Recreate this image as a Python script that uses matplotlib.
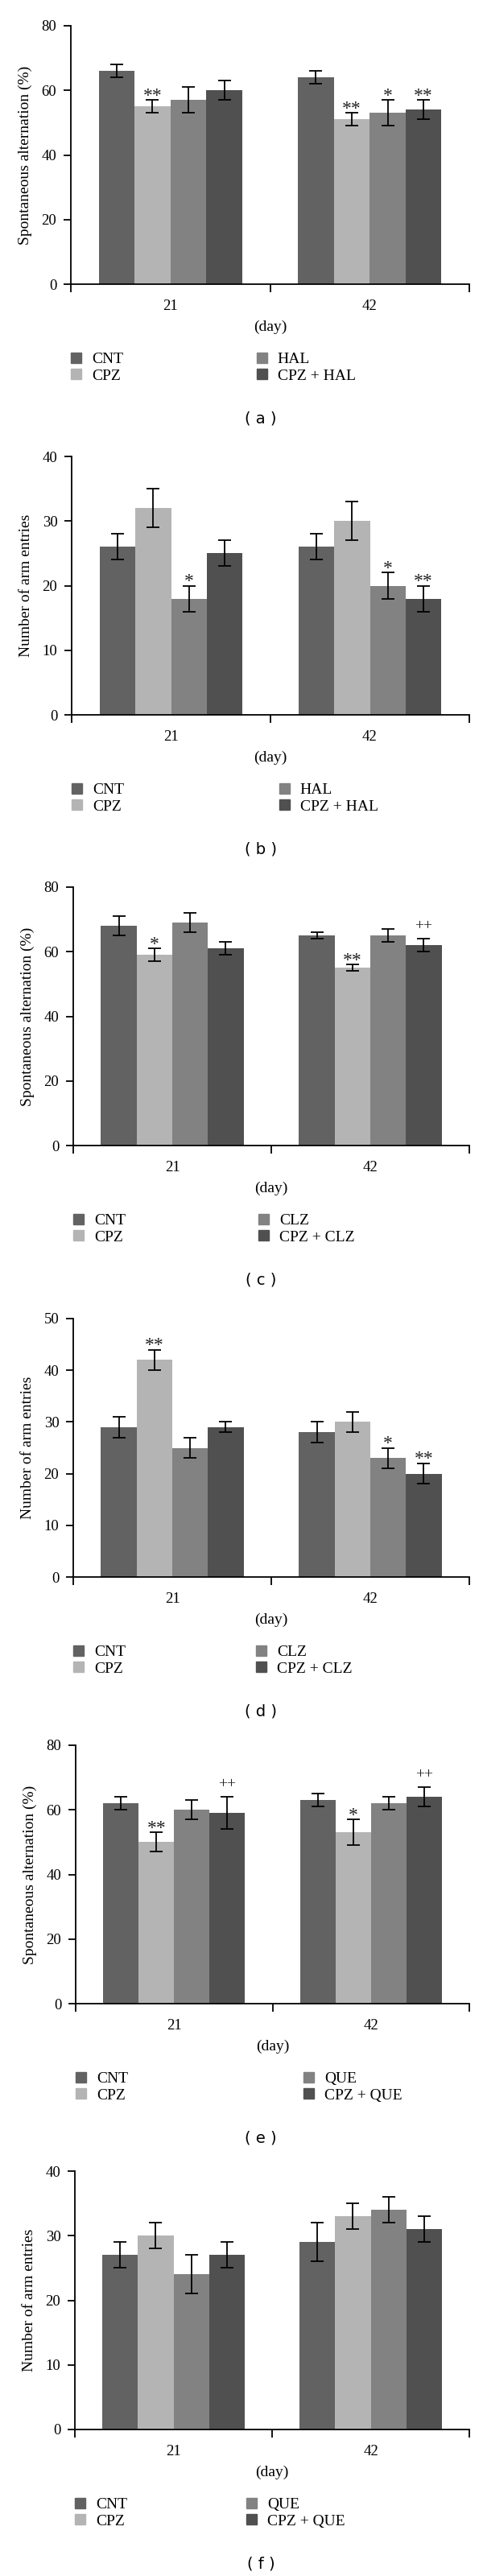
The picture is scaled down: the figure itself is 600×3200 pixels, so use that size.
import matplotlib
matplotlib.use('Agg')
import matplotlib.pyplot as plt
from matplotlib.patches import Patch

plt.rcParams['font.family'] = ['Liberation Serif', 'DejaVu Serif']

days = ['21', '42']
colors = ['#626262', '#b4b4b4', '#828282', '#505050']

# (a) alternation, haloperidol
a_labels = ['CNT', 'CPZ', 'HAL', 'CPZ + HAL']
a_mean = [[66, 55, 57, 60], [64, 51, 53, 54]]
a_err = [[2, 2, 4, 3], [2, 2, 4, 3]]
a_sig = [['', '**', '', ''], ['', '**', '*', '**']]

# (b) arm entries, haloperidol
b_labels = ['CNT', 'CPZ', 'HAL', 'CPZ + HAL']
b_mean = [[26, 32, 18, 25], [26, 30, 20, 18]]
b_err = [[2, 3, 2, 2], [2, 3, 2, 2]]
b_sig = [['', '', '*', ''], ['', '', '*', '**']]

# (c) alternation, clozapine
c_labels = ['CNT', 'CPZ', 'CLZ', 'CPZ + CLZ']
c_mean = [[68, 59, 69, 61], [65, 55, 65, 62]]
c_err = [[3, 2, 3, 2], [1, 1, 2, 2]]
c_sig = [['', '*', '', ''], ['', '**', '', '++']]

# (d) arm entries, clozapine
d_labels = ['CNT', 'CPZ', 'CLZ', 'CPZ + CLZ']
d_mean = [[29, 42, 25, 29], [28, 30, 23, 20]]
d_err = [[2, 2, 2, 1], [2, 2, 2, 2]]
d_sig = [['', '**', '', ''], ['', '', '*', '**']]

# (e) alternation, quetiapine
e_labels = ['CNT', 'CPZ', 'QUE', 'CPZ + QUE']
e_mean = [[62, 50, 60, 59], [63, 53, 62, 64]]
e_err = [[2, 3, 3, 5], [2, 4, 2, 3]]
e_sig = [['', '**', '', '++'], ['', '*', '', '++']]

# (f) arm entries, quetiapine
f_labels = ['CNT', 'CPZ', 'QUE', 'CPZ + QUE']
f_mean = [[27, 30, 24, 27], [29, 33, 34, 31]]
f_err = [[2, 2, 3, 2], [3, 2, 2, 2]]
f_sig = [['', '', '', ''], ['', '', '', '']]

alt = 'Spontaneous alternation (%)'
arms = 'Number of arm entries'
panels = [
    (a_labels, a_mean, a_err, a_sig, alt, 80, 20, '( a )'),
    (b_labels, b_mean, b_err, b_sig, arms, 40, 10, '( b )'),
    (c_labels, c_mean, c_err, c_sig, alt, 80, 20, '( c )'),
    (d_labels, d_mean, d_err, d_sig, arms, 50, 10, '( d )'),
    (e_labels, e_mean, e_err, e_sig, alt, 80, 20, '( e )'),
    (f_labels, f_mean, f_err, f_sig, arms, 40, 10, '( f )'),
]

# layout in pixels
ax_left = [88, 89, 91, 91, 94, 93]
ax_bottom = [353, 888, 1423, 1959, 2489, 3018]
leg2_x = [319, 347, 321, 318, 377, 306]
W, H = 600, 3200
AX_H = 321

fig = plt.figure(figsize=(6, 32), dpi=100)
w = 0.18

for k, (labels, mean, err, sig, ylab, ymax, ystep, tag) in enumerate(panels):
    x0 = ax_left[k]
    y0 = ax_bottom[k]
    ax = fig.add_axes([x0 / W, 1 - y0 / H, (583 - x0) / W, AX_H / H])

    for i in range(4):
        xs = [d + 0.5 + (i - 1.5) * w for d in range(2)]
        ys = [mean[d][i] for d in range(2)]
        es = [err[d][i] for d in range(2)]
        ax.bar(xs, ys, width=w, color=colors[i], label=labels[i], zorder=2)
        ax.errorbar(xs, ys, yerr=es, fmt='none', ecolor='black', capsize=6,
                    elinewidth=1.3, capthick=1.3, zorder=3)
        for d in range(2):
            mark = sig[d][i]
            if mark:
                plus = mark.startswith('+')
                ax.annotate(mark, (xs[d], ys[d] + es[d]),
                            xytext=(0, 5 if plus else -4),
                            textcoords='offset points', ha='center', va='bottom',
                            fontsize=14 if plus else 17, color='#222222')

    ax.set_xlim(0, 2)
    ax.set_ylim(0, ymax)
    ax.set_yticks(range(0, ymax + 1, ystep))
    ax.set_xticks([0, 1, 2])
    ax.set_xticklabels([])
    ax.set_xticks([0.5, 1.5], minor=True)
    ax.set_xticklabels(days, minor=True)
    ax.tick_params(axis='x', which='major', direction='out', length=7.5, width=1.3)
    ax.tick_params(axis='x', which='minor', length=0, pad=14, labelsize=13.5)
    ax.tick_params(axis='y', direction='out', length=6.7, width=1.3, labelsize=13.5, pad=6)
    for s in ('top', 'right'):
        ax.spines[s].set_visible(False)
    for s in ('left', 'bottom'):
        ax.spines[s].set_linewidth(1.3)
    ax.set_xlabel('(day)', fontsize=14, labelpad=6)
    ax.set_ylabel(ylab, fontsize=14, labelpad=8)

    handles = [Patch(color=c) for c in colors]
    for col, lx in ((0, x0), (1, leg2_x[k])):
        fig.legend(handles[2 * col:2 * col + 2], labels[2 * col:2 * col + 2],
                   loc='upper left', bbox_to_anchor=(lx / W, 1 - (y0 + 85) / H),
                   frameon=False, fontsize=14, handlelength=0.65, handleheight=0.65,
                   handletextpad=0.68, labelspacing=0.15, borderpad=0, borderaxespad=0)

    fig.text(0.54, 1 - (y0 + 167) / H, tag, ha='center', va='center',
             family='DejaVu Sans', fontsize=14)

fig.savefig('out.png', dpi=100)
